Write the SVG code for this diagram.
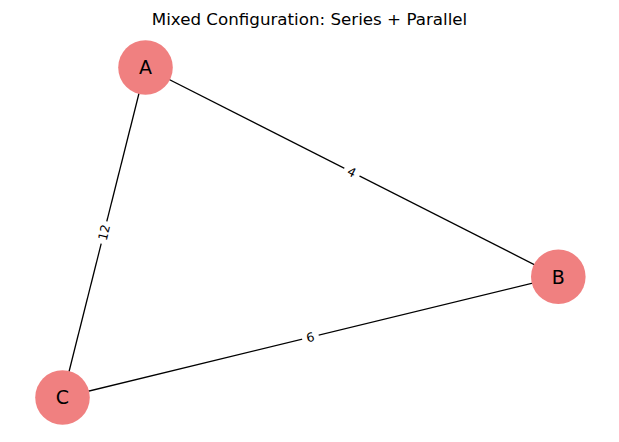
<svg xmlns="http://www.w3.org/2000/svg" width="619" height="442" viewBox="0 0 619 442">
<style>
.edge{stroke:#000;stroke-width:1.3;fill:none}
.node{fill:#F08080}
.nl{font-family:"DejaVu Sans",sans-serif;font-size:19px;text-anchor:middle;fill:#000}
.el{font-family:"DejaVu Sans",sans-serif;font-size:12.5px;text-anchor:middle;dominant-baseline:central;fill:#000}
.bg{fill:#fff}
</style>
<rect width="619" height="442" fill="#fff"/>
<text x="309.5" y="24.5" font-family="DejaVu Sans, sans-serif" font-size="16.7" text-anchor="middle">Mixed Configuration: Series + Parallel</text>
<g id="connectors">
<line class="edge" x1="145.5" y1="67.5" x2="558.3" y2="276.8"/>
<line class="edge" x1="145.5" y1="67.5" x2="62.5" y2="397.5"/>
<line class="edge" x1="558.3" y1="276.8" x2="62.5" y2="397.5"/>
<g transform="translate(351.9,172.1) rotate(26.9)"><rect class="bg" x="-8.5" y="-9" width="17" height="18"/><text class="el" x="0" y="0">4</text></g>
<g transform="translate(104,232.5) rotate(-75.9)"><rect class="bg" x="-11.5" y="-9" width="23" height="18"/><text class="el" x="0" y="0">12</text></g>
<g transform="translate(310.4,337.1) rotate(-13.7)"><rect class="bg" x="-8.5" y="-9" width="17" height="18"/><text class="el" x="0" y="0">6</text></g>
</g>
<g id="node-A"><circle class="node" cx="145.5" cy="67.5" r="27.3"/><text class="nl" x="145.5" y="74.3">A</text></g>
<g id="node-B"><circle class="node" cx="558.3" cy="276.8" r="27.3"/><text class="nl" x="558.3" y="283.6">B</text></g>
<g id="node-C"><circle class="node" cx="62.5" cy="397.5" r="27.3"/><text class="nl" x="62.5" y="404.3">C</text></g>
</svg>
